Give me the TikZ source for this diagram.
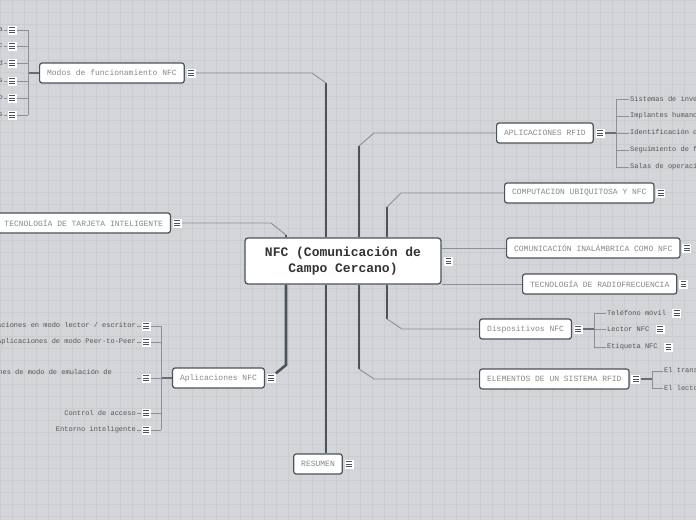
\documentclass[tikz,border=0pt]{standalone}
\usepackage{fontspec}
\newfontfamily\monofont{Liberation Mono}
\usetikzlibrary{positioning,calc}
\definecolor{bgc}{HTML}{D3D5D8}
\definecolor{gridc}{HTML}{CACCCF}
\definecolor{trunkc}{HTML}{4A525A}
\definecolor{linkc}{HTML}{8A9096}
\definecolor{labc}{HTML}{888888}
\definecolor{leafc}{HTML}{555555}

\begin{document}
\begin{tikzpicture}[
		x=1pt, y=-1pt,
		topic/.style={draw=trunkc, line width=1.2pt, rounded corners=2.5pt, fill=white, inner xsep=7.5pt, minimum height=20pt, font=\fontsize{8}{9}\monofont, text=labc},
		leaf/.style={inner sep=1pt, font=\fontsize{7}{8}\monofont, text=leafc},
		menu/.style={fill=white, minimum width=9pt, minimum height=9pt, inner sep=0pt,
			path picture={\foreach \k in {-2.4,0,2.4}{
					\draw[line width=1pt, trunkc] ([xshift=1.7pt,yshift=\k pt]path picture bounding box.west) -- ([xshift=-1.7pt,yshift=\k pt]path picture bounding box.east);}}},
		trunk/.style={draw=trunkc, line width=2.6pt},
		link/.style={draw=linkc, line width=0.9pt},
		stub/.style={draw=trunkc!85, line width=1.4pt}
		]
		
		\useasboundingbox (0,0) rectangle (696,520);
		\fill[bgc] (0,0) rectangle (696,520);
		\foreach \gx in {0,12,...,696} \draw[gridc, line width=0.5pt] (\gx,0) -- (\gx,520);
		\foreach \gy in {0,12,...,516} \draw[gridc, line width=0.5pt] (0,\gy) -- (696,\gy);
		
		% central topic
		\node[draw=trunkc, line width=1.3pt, rounded corners=3pt, fill=white, minimum width=196pt, minimum height=46pt, align=center, font=\fontsize{13}{16}\monofont\bfseries, text=black!80] (nfc) at (343,261) {NFC (Comunicación de\\Campo Cercano)};
		\node[menu, right=2pt of nfc] (mNfc) {};
		
		% main topics
		\node[topic, anchor=west] (rModos) at (39,73) {Modos de funcionamiento NFC};
		\node[topic, anchor=east] (rTarj) at (171,223) {TECNOLOGÍA DE TARJETA INTELIGENTE};
		\node[topic, anchor=east] (rApl) at (265,378) {Aplicaciones NFC};
		\node[topic] (rRes) at (318,464) {RESUMEN};
		\node[topic, anchor=west] (rApps) at (496,133) {APLICACIONES RFID};
		\node[topic, anchor=west] (rComp) at (504,193) {COMPUTACION UBIQUITOSA Y NFC};
		\node[topic, anchor=west] (rComu) at (506,248) {COMUNICACIÓN INALÁMBRICA COMO NFC};
		\node[topic, anchor=west] (rRadio) at (522,284) {TECNOLOGÍA DE RADIOFRECUENCIA};
		\node[topic, anchor=west] (rDisp) at (479,329) {Dispositivos NFC};
		\node[topic, anchor=west] (rElem) at (479,379) {ELEMENTOS DE UN SISTEMA RFID};
		
		\foreach \t in {Modos,Tarj,Apl,Res,Apps,Comp,Comu,Radio,Disp,Elem}
		\node[menu, right=1.5pt of r\t] (m\t) {};
		
		% joints
		\coordinate (jModos) at (326,83);
		\coordinate (jTarj) at (286,235);
		\coordinate (jApl) at (286,365);
		\coordinate (jApps) at (359,146);
		\coordinate (jElem) at (359,369);
		\coordinate (jComp) at (387,207);
		\coordinate (jDisp) at (387,319);
		
		% trunks
		\draw[trunk] (nfc.north -| jModos) -- (jModos);
		\draw[link] (jModos) -- (312,73) -- (mModos.east);
		\draw[trunk] (nfc.north -| jTarj) -- (jTarj);
		\draw[link] (jTarj) -- (271,223) -- (mTarj.east);
		\draw[trunk] (nfc.south -| jApl) -- (jApl) -- (mApl.north east);
		\draw[trunk] (nfc.south -| jModos) -- (jModos |- rRes.north);
		\draw[trunk] (nfc.north -| jApps) -- (jApps);
		\draw[link] (jApps) -- (374,133) -- (rApps.west);
		\draw[trunk] (nfc.south -| jElem) -- (jElem);
		\draw[link] (jElem) -- (374,379) -- (rElem.west);
		\draw[trunk] (nfc.north -| jComp) -- (jComp);
		\draw[link] (jComp) -- (401,193) -- (rComp.west);
		\draw[trunk] (nfc.south -| jDisp) -- (jDisp);
		\draw[link] (jDisp) -- (402,329) -- (rDisp.west);
		\draw[link] (nfc.east |- rComu.west) -- (rComu.west);
		\draw[link] (nfc.east |- rRadio.west) -- (rRadio.west);
		
		% Modos de funcionamiento NFC
		\coordinate (bModos) at (28,73);
		\draw[stub] (rModos.west) -- (bModos);
		\foreach \cy/\tl [count=\i] in {30/a,46/c,63/d,81/s,98/o,115/s}{
			\node[menu] (mM\i) at (12,\cy) {};
			\node[leaf, anchor=east] (lM\i) at (4,\cy) {\tl};
			\draw[link] (mM\i.east) -- (bModos |- mM\i);
			\draw[link] (lM\i.east) -- (mM\i.west);
		}
		\draw[link] (bModos |- mM1) -- (bModos |- mM6);
		
		% Aplicaciones NFC
		\coordinate (bApl) at (161,378);
		\draw[stub] (rApl.west) -- (bApl);
		\foreach \cy/\tl [count=\i] in {326/{Aplicaciones en modo lector / escritor},342/{Aplicaciones de modo Peer-to-Peer},378/{},413/{Control de acceso},430/{Entorno inteligente}}{
			\node[menu] (mA\i) at (146,\cy) {};
			\node[leaf, anchor=east] (lA\i) at (137,\cy) {\tl};
			\draw[link] (mA\i.east) -- (bApl |- mA\i);
			\draw[link] (lA\i.east) -- (mA\i.west);
		}
		\node[leaf, anchor=east] (lA3b) at (113,373) {Aplicaciones de modo de emulación de};
		\draw[link] (bApl |- mA1) -- (bApl |- mA5);
		
		% APLICACIONES RFID
		\coordinate (bApps) at (616,133);
		\draw[stub] (mApps.east) -- (bApps);
		\foreach \cy/\tl [count=\i] in {99/Sistemas de inventario,116/Implantes humanos,133/Identificación de personas,150/Seguimiento de fármacos,167/Salas de operaciones}{
			\node[leaf, anchor=west] (lR\i) at (629,\cy) {\tl};
			\draw[link] (bApps |- lR\i.west) -- (lR\i.west);
		}
		\draw[link] (bApps |- lR1.west) -- (bApps |- lR5.west);
		
		% Dispositivos NFC
		\coordinate (bDisp) at (594,329);
		\draw[stub] (mDisp.east) -- (bDisp);
		\foreach \cy/\tl [count=\i] in {313/Teléfono móvil,329/Lector NFC,347/Etiqueta NFC}{
			\node[leaf, anchor=west] (lD\i) at (606,\cy) {\tl};
			\node[menu, right=5pt of lD\i] (mD\i) {};
			\draw[link] (bDisp |- lD\i.west) -- (lD\i.west);
		}
		\draw[link] (bDisp |- lD1.west) -- (bDisp |- lD3.west);
		
		% ELEMENTOS DE UN SISTEMA RFID
		\coordinate (bElem) at (652,379);
		\draw[stub] (mElem.east) -- (bElem);
		\foreach \cy/\tl [count=\i] in {371/El transpondedor,388/El lector}{
			\node[leaf, anchor=west] (lE\i) at (663,\cy) {\tl};
			\draw[link] (bElem |- lE\i.west) -- (lE\i.west);
		}
		\draw[link] (bElem |- lE1.west) -- (bElem |- lE2.west);
		
	\end{tikzpicture}
\end{document}
